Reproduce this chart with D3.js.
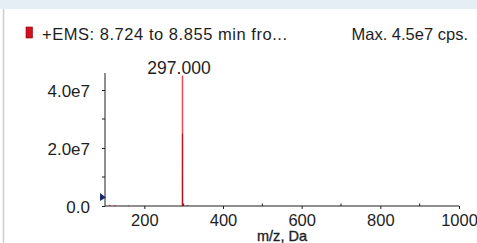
<!DOCTYPE html>
<html><head><meta charset="utf-8">
<script src="https://cdn.jsdelivr.net/npm/d3@7"></script>
<style>body{margin:0;background:#fff;font-family:"Liberation Sans",Arial,sans-serif;}</style>
</head><body>
<svg id="c" width="477" height="243"></svg>
<script>
const peakMz = [112, 125, 160, 297.0, 310];
const peakIntensity = [0.4e6, 0.3e6, 0.2e6, 4.5e7, 0.3e6];
const xTicks = [200, 400, 600, 800, 1000];
const xMinorTicks = [300, 500, 700, 900];
const yTicks = [0, 2e7, 4e7];
const yTickLabels = ["0.0", "2.0e7", "4.0e7"];
const yMinorTicks = [1e7, 3e7];
const titleText = "+EMS: 8.724 to 8.855 min fro...";
const maxText = "Max. 4.5e7 cps.";
const peakLabel = "297.000";
const xTitle = "m/z, Da";

const svg = d3.select("#c");
svg.append("rect").attr("x",0).attr("y",0).attr("width",477).attr("height",9).attr("fill","#e5eef5");
svg.append("line").attr("x1",3.5).attr("x2",3.5).attr("y1",9).attr("y2",243).attr("stroke","#cfcfcf").attr("stroke-width",1.5);

const x = d3.scaleLinear().domain([100,1000]).range([105,459]);
const y = d3.scaleLinear().domain([0,2e7]).range([206,148]);
const tc = "#1e1e1e";
const ff = "Liberation Sans, Arial, sans-serif";

// legend
svg.append("rect").attr("x",26).attr("y",27).attr("width",6.5).attr("height",11).attr("fill","#d0101a").attr("stroke","#8a0008").attr("stroke-width",0.6);
svg.append("text").attr("x",42).attr("y",40).attr("font-size",16.5).attr("fill",tc)
  .attr("textLength",245).attr("lengthAdjust","spacing").text(titleText);
svg.append("text").attr("x",468).attr("y",40).attr("text-anchor","end").attr("font-size",16.5).attr("fill",tc).text(maxText);

// axes
const gx = svg.append("g").attr("transform","translate(0,206)")
  .call(d3.axisBottom(x).tickValues(xTicks).tickSize(3).tickFormat(d3.format("d")));
gx.select(".domain").attr("stroke",tc).attr("d","M105,0H459");
gx.selectAll("line").attr("stroke",tc);
gx.selectAll("text").attr("font-size",16.5).attr("fill",tc).attr("font-family",ff).attr("y",0).attr("dy",0)
  .attr("transform","translate(0,20)");
svg.append("g").selectAll("line").data(xMinorTicks).join("line")
  .attr("x1",d=>x(d)).attr("x2",d=>x(d)).attr("y1",203.5).attr("y2",206).attr("stroke",tc);

const gy = svg.append("g").attr("transform","translate(105,0)")
  .call(d3.axisLeft(y).tickValues(yTicks).tickSize(3).tickFormat((d,i)=>yTickLabels[i]));
gy.select(".domain").attr("stroke",tc).attr("d","M0,73V206");
gy.selectAll("line").attr("stroke",tc);
gy.selectAll("text").attr("font-size",17).attr("fill",tc).attr("font-family",ff).attr("x",-15).attr("dy","0.36em");
svg.append("g").selectAll("line").data(yMinorTicks).join("line")
  .attr("x1",102).attr("x2",105).attr("y1",d=>y(d)).attr("y2",d=>y(d)).attr("stroke",tc);

svg.append("text").attr("x",282).attr("y",241).attr("text-anchor","middle").attr("font-size",14.5).attr("fill",tc)
  .attr("stroke",tc).attr("stroke-width",0.35)
  .attr("textLength",50).attr("lengthAdjust","spacingAndGlyphs").text(xTitle);

// peaks
const defs = svg.append("defs");
const grad = defs.append("linearGradient").attr("id","pg").attr("x1",0).attr("x2",0).attr("y1",0).attr("y2",1);
grad.append("stop").attr("offset","0").attr("stop-color","#f04858");
grad.append("stop").attr("offset","0.44").attr("stop-color","#f04858");
grad.append("stop").attr("offset","0.45").attr("stop-color","#c8101c");
grad.append("stop").attr("offset","1").attr("stop-color","#b01018");
svg.append("g").selectAll("rect").data(peakMz.map((m,i)=>({m,v:peakIntensity[i]}))).join("rect")
  .attr("x",d=>x(d.m)-0.75).attr("width",1.5)
  .attr("y",d=>y(d.v)).attr("height",d=>206-y(d.v))
  .attr("fill",d=>d.v>1e7?"url(#pg)":"#c02030");

svg.append("text").attr("x",179).attr("y",74).attr("text-anchor","middle").attr("font-size",17.5).attr("fill",tc).text(peakLabel);

// marker
svg.append("path").attr("d","M100,193L106,197.5L100,201Z").attr("fill","#1a2a6a");
</script>
</body></html>
